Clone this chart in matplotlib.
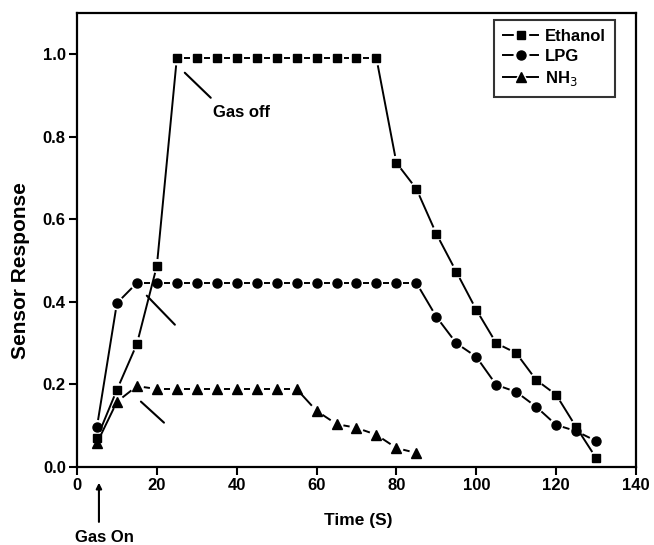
import matplotlib
matplotlib.use("Agg")
import matplotlib.pyplot as plt
import numpy as np
from matplotlib.lines import Line2D
from matplotlib.legend_handler import HandlerTuple

plt.rcParams['font.family'] = ['Liberation Sans', 'DejaVu Sans']

# ---- data ----
time_ethanol = [5, 10, 15, 20, 25, 30, 35, 40, 45, 50, 55, 60, 65, 70, 75,
                80, 85, 90, 95, 100, 105, 110, 115, 120, 125, 130]
ethanol = [0.07, 0.187, 0.298, 0.487, 0.99, 0.99, 0.99, 0.99, 0.99, 0.99, 0.99,
           0.99, 0.99, 0.99, 0.99, 0.737, 0.674, 0.565, 0.473, 0.381, 0.300,
           0.276, 0.211, 0.175, 0.097, 0.022]
time_lpg = [5, 10, 15, 20, 25, 30, 35, 40, 45, 50, 55, 60, 65, 70, 75, 80, 85,
            90, 95, 100, 105, 110, 115, 120, 125, 130]
lpg = [0.097, 0.397, 0.446, 0.446, 0.446, 0.446, 0.446, 0.446, 0.446, 0.446,
       0.446, 0.446, 0.446, 0.446, 0.446, 0.446, 0.446, 0.364, 0.300, 0.267,
       0.199, 0.182, 0.146, 0.102, 0.087, 0.063]
time_nh3 = [5, 10, 15, 20, 25, 30, 35, 40, 45, 50, 55, 60, 65, 70, 75, 80, 85]
nh3 = [0.058, 0.158, 0.196, 0.189, 0.189, 0.189, 0.189, 0.189, 0.189, 0.189,
       0.189, 0.136, 0.104, 0.095, 0.078, 0.046, 0.034]
labels = ['Ethanol', 'LPG', 'NH$_3$']
markers = ['s', 'o', '^']
msizes = [5.8, 6.5, 7.2]
x_ticks = [0, 20, 40, 60, 80, 100, 120, 140]
y_ticks = [0.0, 0.2, 0.4, 0.6, 0.8, 1.0]

fig = plt.figure(figsize=(6.54, 5.45), dpi=100)
ax = fig.add_axes([0.1177, 0.1431, 0.8548, 0.833])
ax.set_xlim(0, 140)
ax.set_ylim(0, 1.1)

gap_px = 7.0  # gap between marker centre and line end, in pixels
LW = 1.4


def draw_gapped(xs, ys, marker, ms):
    pts = ax.transData.transform(np.column_stack([xs, ys]))
    inv = ax.transData.inverted()
    for i in range(len(pts) - 1):
        p0, p1 = pts[i], pts[i + 1]
        d = p1 - p0
        L = np.hypot(*d)
        if L <= 2 * gap_px:
            continue
        u = d / L
        a = inv.transform(p0 + u * gap_px)
        b = inv.transform(p1 - u * gap_px)
        ax.plot([a[0], b[0]], [a[1], b[1]], color='black', lw=LW,
                solid_capstyle='butt', zorder=2)
    ax.plot(xs, ys, linestyle='none', marker=marker, ms=ms, color='black',
            zorder=3)


series = [(time_ethanol, ethanol), (time_lpg, lpg), (time_nh3, nh3)]
for (xs, ys), m, ms in zip(series, markers, msizes):
    draw_gapped(xs, ys, m, ms)

# axes styling
for sp in ax.spines.values():
    sp.set_linewidth(1.6)
ax.set_xticks(x_ticks)
ax.set_yticks(y_ticks)
ax.set_yticklabels([f'{v:.1f}' for v in y_ticks])
ax.tick_params(direction='out', length=6, width=1.5, pad=2, labelsize=12)
for lab in ax.get_xticklabels() + ax.get_yticklabels():
    lab.set_fontweight('bold')

fig.text(0.031, 1 - 271 / 545, 'Sensor Response', rotation=90, ha='center',
         va='center', fontsize=15, fontweight='bold')
fig.text(0.548, 1 - 520 / 545, 'Time (S)', ha='center', va='center',
         fontsize=12.5, fontweight='bold')

# annotations
ax.annotate('', xy=(26.5, 0.96), xytext=(34, 0.89),
            arrowprops=dict(arrowstyle='-', lw=1.5, color='black'))
ax.text(34, 0.858, 'Gas off', fontsize=12, fontweight='bold', va='center')
ax.annotate('', xy=(17, 0.42), xytext=(25, 0.34),
            arrowprops=dict(arrowstyle='-', lw=1.5, color='black'))
ax.annotate('', xy=(15.5, 0.163), xytext=(22.3, 0.103),
            arrowprops=dict(arrowstyle='-', lw=1.5, color='black'))
ax.annotate('', xy=(5.5, -0.038), xytext=(5.5, -0.133),
            xycoords='data', annotation_clip=False,
            arrowprops=dict(arrowstyle='-|>', lw=1.5, color='black',
                            mutation_scale=8, shrinkA=0, shrinkB=0))
fig.text(104 / 654, 1 - 538 / 545, 'Gas On', ha='center', va='center',
         fontsize=12, fontweight='bold')

# legend
handles = []
for m, ms in zip(markers, msizes):
    line = Line2D([], [], color='black', lw=LW, marker=m, ms=ms + 4,
                  markerfacecolor='white', markeredgecolor='white')
    mk = Line2D([], [], color='black', linestyle='none', marker=m, ms=ms)
    handles.append((line, mk))
leg = ax.legend(handles, labels, handler_map={tuple: HandlerTuple(ndivide=1)},
                loc='upper right', bbox_to_anchor=(0.9624, 0.9846),
                borderaxespad=0,
                prop={'weight': 'bold', 'size': 12}, frameon=True,
                fancybox=False, edgecolor='black', handlelength=2.1,
                handletextpad=0.4, borderpad=0.55, labelspacing=0.3)
leg.get_frame().set_linewidth(1.5)

fig.savefig('out.png', dpi=100)
